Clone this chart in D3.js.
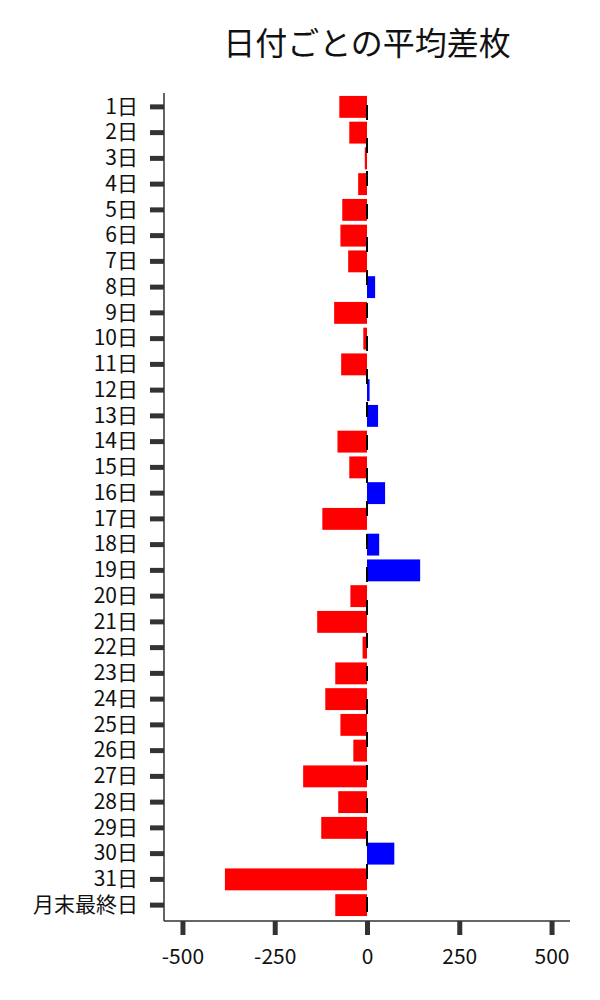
<!DOCTYPE html>
<html>
<head>
<meta charset="utf-8">
<script src="https://cdn.jsdelivr.net/npm/d3@7"></script>
<style>
  body { margin: 0; background: #fff; }
  text { font-family: "Noto Sans CJK JP", "Noto Sans", sans-serif; }
</style>
</head>
<body>
<div id="chart"></div>
<script>
// categories (days of month) and average differences
var days = ["1日","2日","3日","4日","5日","6日","7日","8日","9日","10日",
            "11日","12日","13日","14日","15日","16日","17日","18日","19日","20日",
            "21日","22日","23日","24日","25日","26日","27日","28日","29日","30日",
            "31日","月末最終日"];
var values = [-75, -48, -6, -24, -67, -72, -51, 22, -89, -10,
              -70, 7, 30, -80, -48, 49, -121, 33, 144, -45,
              -135, -12, -86, -113, -72, -37, -173, -78, -124, 74,
              -385, -86];
var xTicks = [-500, -250, 0, 250, 500];
var title = "日付ごとの平均差枚";

// set the dimensions of the plot area
var W = 600, H = 1000,
    plotLeft = 164, plotRight = 570, plotTop = 93, plotBottom = 921;

var svg = d3.select("#chart")
  .append("svg")
    .attr("width", W)
    .attr("height", H);

var x = d3.scaleLinear()
  .domain([-550, 550])
  .range([plotLeft, plotRight]);

var y = d3.scaleBand()
  .domain(days)
  .range([plotTop + 1, plotBottom - 3])
  .paddingInner(0.15)
  .paddingOuter(0.075);

// bars
svg.selectAll("rect.bar")
  .data(days)
  .enter()
  .append("rect")
    .attr("class", "bar")
    .attr("x", function(d, i) { return x(Math.min(0, values[i])); })
    .attr("y", function(d) { return y(d); })
    .attr("width", function(d, i) { return Math.abs(x(values[i]) - x(0)); })
    .attr("height", y.bandwidth())
    .attr("fill", function(d, i) { return values[i] < 0 ? "#ff0000" : "#0000ff"; });

// dashed zero line
svg.append("line")
  .attr("x1", x(0)).attr("x2", x(0))
  .attr("y1", plotTop).attr("y2", plotBottom)
  .attr("stroke", "#000")
  .attr("stroke-width", 2)
  .attr("stroke-dasharray", "15,18")
  .attr("stroke-dashoffset", 21);

// Y axis
var yAxis = svg.append("g")
  .attr("transform", "translate(" + plotLeft + ",0)")
  .call(d3.axisLeft(y).tickSize(14).tickPadding(12));
yAxis.select(".domain").remove();
yAxis.selectAll(".tick line")
  .attr("stroke", "#333")
  .attr("stroke-width", 5);
yAxis.selectAll(".tick text")
  .style("font-family", "'Noto Sans CJK JP', sans-serif")
  .style("font-size", "21px")
  .attr("fill", "#111");

// X axis
var xAxis = svg.append("g")
  .attr("transform", "translate(0," + plotBottom + ")")
  .call(d3.axisBottom(x).tickValues(xTicks).tickSize(14).tickPadding(14)
    .tickFormat(function(d) { return String(d); }));
xAxis.select(".domain").remove();
xAxis.selectAll(".tick line")
  .attr("stroke", "#333")
  .attr("stroke-width", 5);
xAxis.selectAll(".tick text")
  .style("font-family", "'Noto Sans CJK JP', sans-serif")
  .style("font-size", "21px")
  .attr("fill", "#111");

// spines
svg.append("line")
  .attr("x1", plotLeft).attr("x2", plotLeft)
  .attr("y1", plotTop).attr("y2", plotBottom)
  .attr("stroke", "#333").attr("stroke-width", 1.5);
svg.append("line")
  .attr("x1", plotLeft).attr("x2", plotRight)
  .attr("y1", plotBottom).attr("y2", plotBottom)
  .attr("stroke", "#333").attr("stroke-width", 1.5);

// title
svg.append("text")
  .attr("x", (plotLeft + plotRight) / 2)
  .attr("y", 41)
  .attr("text-anchor", "middle")
  .attr("dominant-baseline", "central")
  .style("font-size", "32px")
  .attr("fill", "#111")
  .text(title);
</script>
</body>
</html>
